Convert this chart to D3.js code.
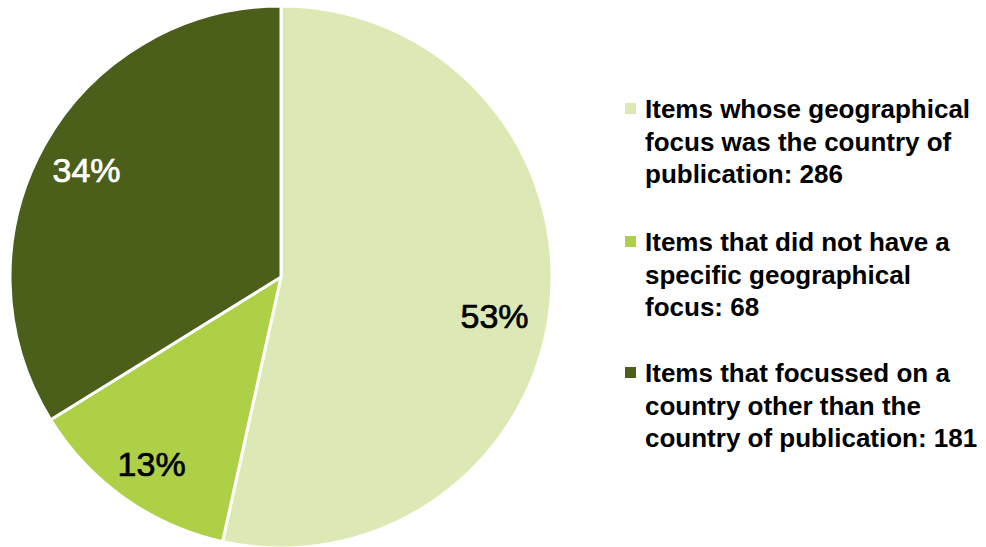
<!DOCTYPE html>
<html>
<head>
<meta charset="utf-8">
<script src="https://cdn.jsdelivr.net/npm/d3@7"></script>
<style>
  html, body { margin: 0; padding: 0; background: #ffffff; }
  svg { display: block; }
</style>
</head>
<body>
<svg id="chart" width="986" height="547"></svg>
<script>
// Items grouped by geographical focus
const categories = [
  "Items whose geographical focus was the country of publication",
  "Items that did not have a specific geographical focus",
  "Items that focussed on a country other than the country of publication"
];
const values = [286, 68, 181];
const percentLabels = ["53%", "13%", "34%"];
const legendLines = [
  ["Items whose geographical", "focus was the country of", "publication: 286"],
  ["Items that did not have a", "specific geographical", "focus: 68"],
  ["Items that focussed on a", "country other than the", "country of publication: 181"]
];
const colors = ["#dde9b5", "#add046", "#4b5e1a"];
const labelColors = ["#000000", "#000000", "#ffffff"];

const svg = d3.select("#chart");
const cx = 281, cy = 277, r = 271;

// small nudges applied to each percentage label after placing it on the label arc
const labelNudge = [[-2, 15], [-4, 10], [-5, -2]];

const pie = d3.pie().sort(null).value(d => d)(values);
const arc = d3.arc().innerRadius(0).outerRadius(r);
const labelArc = d3.arc().innerRadius(r * 0.8).outerRadius(r * 0.8);

const g = svg.append("g").attr("transform", `translate(${cx},${cy})`);

g.selectAll("path.slice")
  .data(pie)
  .join("path")
  .attr("class", "slice")
  .attr("d", arc)
  .attr("fill", (d, i) => colors[i])
  .attr("stroke", "#ffffff")
  .attr("stroke-width", 3)
  .attr("stroke-linejoin", "round");

g.selectAll("text.pct")
  .data(pie)
  .join("text")
  .attr("class", "pct")
  .attr("transform", (d, i) => {
    const [x, y] = labelArc.centroid(d);
    return `translate(${x + labelNudge[i][0]},${y + labelNudge[i][1]})`;
  })
  .attr("text-anchor", "middle")
  .attr("dy", "0.36em")
  .attr("font-family", "'Liberation Sans', Arial, sans-serif")
  .attr("font-size", 34)
  .attr("fill", (d, i) => labelColors[i])
  .attr("stroke", (d, i) => labelColors[i])
  .attr("stroke-width", 0.7)
  .text((d, i) => percentLabels[i]);

// Legend
const legendX = 625, textX = 645;
const groupBaselines = [118, 251, 382];
const lineH = 32.5;

const lg = svg.append("g").attr("class", "legend");
categories.forEach((c, i) => {
  const item = lg.append("g");
  item.append("rect")
    .attr("x", legendX)
    .attr("y", groupBaselines[i] - 15)
    .attr("width", 11)
    .attr("height", 11)
    .attr("fill", colors[i]);
  const t = item.append("text")
    .attr("font-family", "'Liberation Sans', Arial, sans-serif")
    .attr("font-weight", "bold")
    .attr("font-size", 26)
    .attr("fill", "#000000");
  legendLines[i].forEach((line, j) => {
    t.append("tspan")
      .attr("x", textX)
      .attr("y", groupBaselines[i] + j * lineH)
      .text(line);
  });
});
</script>
</body>
</html>
